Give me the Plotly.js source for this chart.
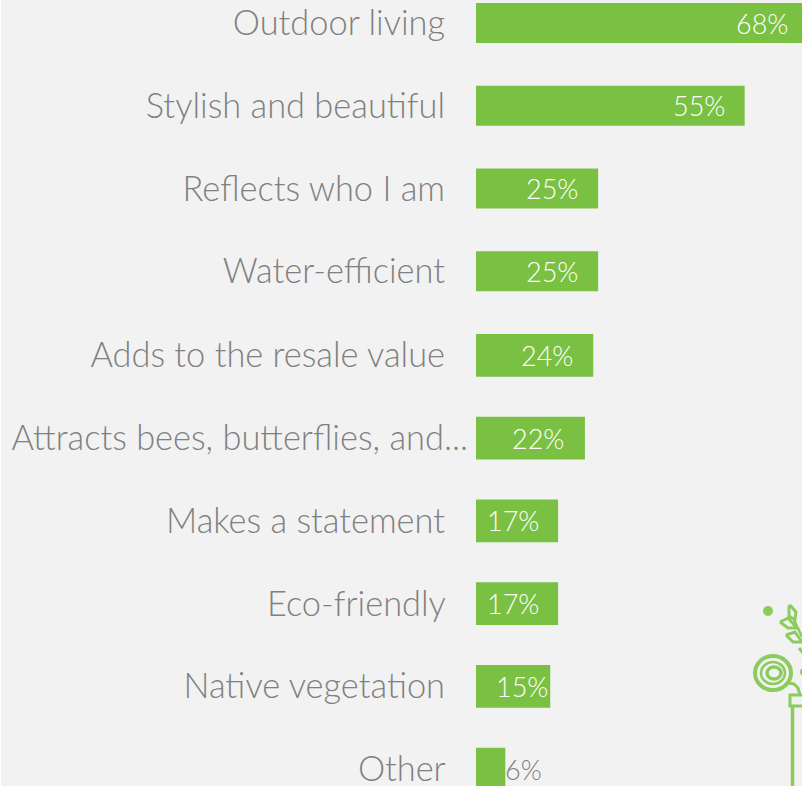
<!DOCTYPE html>
<html><head><meta charset="utf-8">
<script src="https://cdn.plot.ly/plotly-3.0.1.min.js"></script>
<style>html,body{margin:0;padding:0;width:802px;height:786px;overflow:hidden;background:#f2f2f2}</style>
</head><body><div id="chart"></div>
<script>
var categories = ["Outdoor living","Stylish and beautiful","Reflects who I am","Water-efficient","Adds to the resale value","Attracts bees, butterflies, and...","Makes a statement","Eco-friendly","Native vegetation","Other"];
var values = [68,55,25,25,24,22.3,16.8,16.8,15.2,6];
var rows = [0,1,2,3,4.018,5.018,6.018,7.018,8.018,9.018];
var barWidths = [0.485,0.485,0.485,0.485,0.515,0.515,0.515,0.515,0.515,0.515];
var labelShift = [-18,-18,-18,-18,-18,-19,-17,-17,0,-2];
var labelPad = "\u00a0\u00a0\u2009";
var tickText = categories.map(function(c,i){return i===5 ? c : c+labelPad;});

var data = [{type:"bar",orientation:"h",x:values,y:rows,width:barWidths,
  marker:{color:"#7ac143",line:{width:0}},hoverinfo:"skip"}];

var ann = values.map(function(v,i){
  return {x:v,y:rows[i],xref:"x",yref:"y",text:Math.round(v)+"%",showarrow:false,
    xanchor:v<10?"left":"right",xshift:labelShift[i],
    font:{family:"Lato, sans-serif",size:27,color:v<10?"#808080":"#ffffff",weight:300}};
});

var W=840,H=800,L=476,G="#8ccb5e";
function base(o){o.xref="paper";o.yref="paper";o.xsizemode="pixel";o.ysizemode="pixel";o.xanchor=0;o.yanchor=1;o.layer="above";return o;}
function deco(type,x0,y0,x1,y1,w,fill){return base({type:type,x0:x0-L,x1:x1-L,y0:-y0,y1:-y1,line:{color:G,width:w},fillcolor:fill||"rgba(0,0,0,0)"});}
function sprig(pts,w){var d=pts.map(function(p,i){return (i?"L":"M")+(p[0]-L)+","+(-p[1]);}).join(" ");return base({type:"path",path:d,line:{color:G,width:w},fillcolor:"rgba(0,0,0,0)"});}
var shapes=[
 deco("circle",763,606,773,616,0,G),
 deco("circle",755,656,791,690,4),
 deco("circle",761,662,785,684,2.5),
 deco("circle",767,667,781,679,3.5),
 deco("circle",800,668,808,676,0,G),
 sprig([[788,683],[794,684],[798,688],[800,695]],3),
 sprig([[790,605],[796,612],[795,620],[789,616],[789,607],[790,605]],3),
 sprig([[780,622],[788,618],[797,628],[788,628],[780,622]],3),
 sprig([[786,635],[795,632],[802,642],[793,642],[786,635]],3),
 sprig([[794,620],[802,637]],2.5),
 sprig([[799,648],[804,654]],3),
 deco("rect",790,695,830,706,3),
 deco("line",792.5,706,792.5,800,3.5),
 base({type:"rect",x0:-L,x1:-L+1,y0:0,y1:-H,line:{width:0},fillcolor:"#ffffff"})
];

var layout={width:W,height:H,margin:{l:L,r:0,t:0,b:0,pad:0},
 paper_bgcolor:"#f2f2f2",plot_bgcolor:"#f2f2f2",showlegend:false,
 xaxis:{range:[0,(W-L)/4.885],visible:false,fixedrange:true},
 yaxis:{range:[(H-23)/82.73,-23/82.73],tickmode:"array",tickvals:rows,ticktext:tickText,
   showgrid:false,zeroline:false,showline:false,ticks:"",ticklabelstandoff:7,fixedrange:true,
   tickfont:{family:"Lato, sans-serif",size:34.4,color:"#808080",weight:300}},
 annotations:ann,shapes:shapes};
Plotly.newPlot("chart",data,layout,{displayModeBar:false,staticPlot:true});
</script></body></html>
